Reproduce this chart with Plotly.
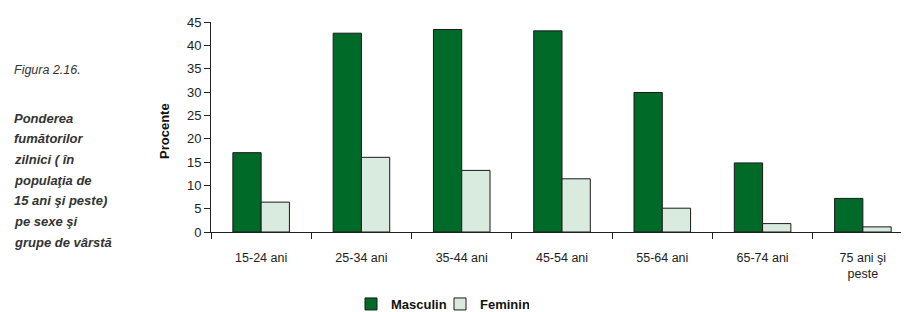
import plotly.graph_objects as go

categories = ["15-24 ani", "25-34 ani", "35-44 ani", "45-54 ani", "55-64 ani", "65-74 ani", "75 ani şi<br>peste"]
masculin = [17.0, 42.6, 43.4, 43.1, 29.9, 14.8, 7.2]
feminin = [6.4, 16.0, 13.2, 11.4, 5.1, 1.8, 1.1]
y_ticks = [0, 5, 10, 15, 20, 25, 30, 35, 40, 45]

# page body has an 8px margin; work in window pixels and convert
OFF = 8
W, H = 909 - OFF, 312 - OFF
L, R, T, B = 211 - OFF, 0, 22 - OFF, 312 - 232
pw = W - L - R
ph = H - T - B

def px_x(x):
    return (x - OFF - L) / pw

def px_y(y):
    return (H - B - (y - OFF)) / ph

font = "Liberation Sans, Arial, sans-serif"

fig = go.Figure()
fig.add_bar(name="Masculin", x=categories, y=masculin,
            marker=dict(color="#006A28", line=dict(color="#1a1a1a", width=1)))
fig.add_bar(name="Feminin", x=categories, y=feminin,
            marker=dict(color="#D9EBDF", line=dict(color="#1a1a1a", width=1)))

fig.update_layout(
    width=W, height=H,
    margin=dict(l=L, r=R, t=T, b=B, autoexpand=False),
    paper_bgcolor="white", plot_bgcolor="white",
    barmode="group", bargap=0.436, bargroupgap=0,
    font=dict(family=font, size=12, color="#222"),
    showlegend=True,
    legend=dict(orientation="h", x=px_x(440), xanchor="center",
                y=px_y(304), yanchor="middle",
                font=dict(family=font, size=13, color="#111", weight="bold"),
                itemwidth=30, entrywidth=44, tracegroupgap=0),
)
fig.update_xaxes(
    range=[-0.5, 6.46],
    showline=True, linecolor="#222", linewidth=1,
    ticks="outside", tickson="boundaries", ticklen=6, tickcolor="#222",
    ticklabelstandoff=14,
    showgrid=False, tickfont=dict(family=font, size=12.5, color="#222"),
)
fig.update_yaxes(
    range=[0, 45], tickvals=y_ticks,
    showline=True, linecolor="#222", linewidth=1,
    ticks="outside", ticklen=6, tickcolor="#222",
    showgrid=False, zeroline=False,
    tickfont=dict(family=font, size=13, color="#222"),
)

annotations = [
    dict(text="<b>Procente</b>", x=px_x(165), y=px_y(131), textangle=-90,
         font=dict(family=font, size=13, color="#111")),
    dict(text="<i>Figura 2.16.</i>", x=px_x(12), y=px_y(70), xanchor="left",
         font=dict(family=font, size=12.5, color="#333")),
]
left_lines = ["Ponderea", "fumătorilor", "zilnici ( în", "populaţia de",
              "15 ani şi peste)", "pe sexe şi", "grupe de vârstă"]
for i, line in enumerate(left_lines):
    annotations.append(dict(text="<b><i>" + line + "</i></b>", x=px_x(12),
                            y=px_y(118 + i * 20.7), xanchor="left",
                            font=dict(family=font, size=13, color="#333")))
for a in annotations:
    a.update(xref="paper", yref="paper", showarrow=False, yanchor="middle")
    a.setdefault("xanchor", "center")
fig.update_layout(annotations=annotations)

fig.write_html("out.html")
